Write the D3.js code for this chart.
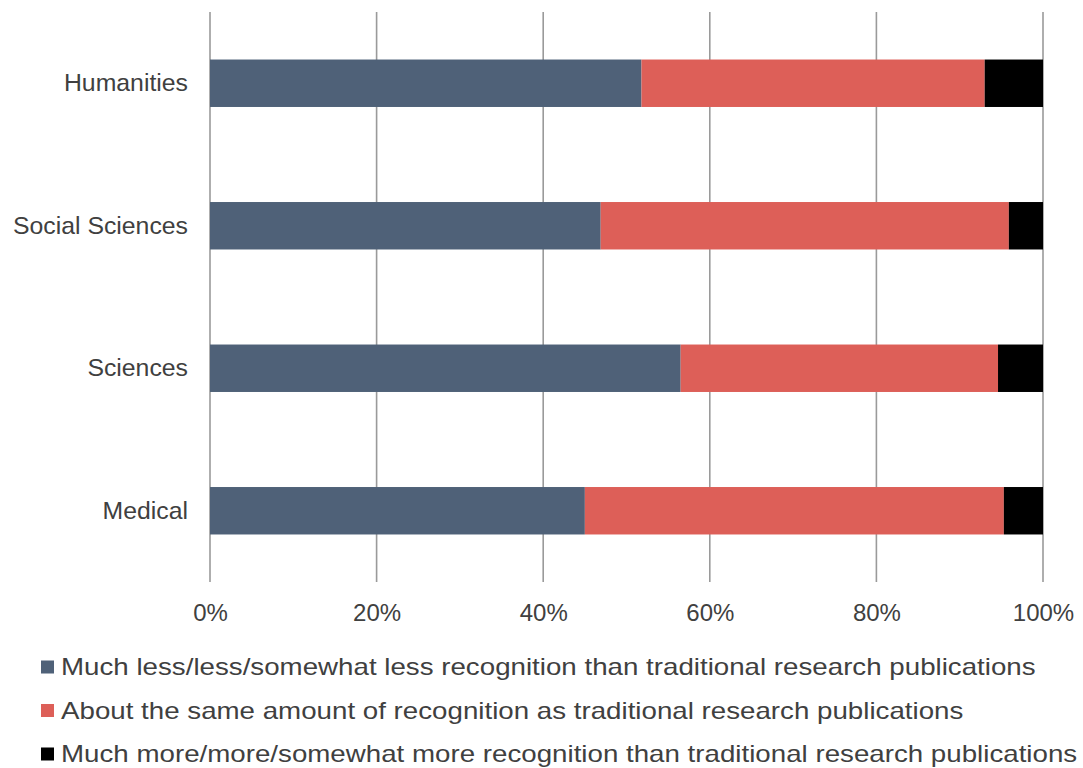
<!DOCTYPE html>
<html>
<head>
<meta charset="utf-8">
<script src="https://cdn.jsdelivr.net/npm/d3@7"></script>
<style>
  html, body { margin: 0; padding: 0; background: #fff; }
  svg { display: block; font-family: "Liberation Sans", Arial, Helvetica, sans-serif; }
</style>
</head>
<body>
<svg id="chart" width="1083" height="768"></svg>
<script>
const categories = ["Humanities", "Social Sciences", "Sciences", "Medical"];
const seriesNames = [
  "Much less/less/somewhat less recognition than traditional research publications",
  "About the same amount of recognition as traditional research publications",
  "Much more/more/somewhat more recognition than traditional research publications"
];
const lessValues = [51.8, 46.9, 56.5, 45.0];
const sameValues = [41.2, 49.0, 38.1, 50.3];
const moreValues = [7.0, 4.1, 5.4, 4.7];
const tickValues = [0, 20, 40, 60, 80, 100];
const colors = ["#4f6178", "#dd5f58", "#000000"];

const rows = categories.map((c, i) => ({
  category: c,
  s0: lessValues[i], s1: sameValues[i], s2: moreValues[i]
}));
const keys = ["s0", "s1", "s2"];
const stacked = d3.stack().keys(keys)(rows);

const svg = d3.select("#chart");
const x = d3.scaleLinear().domain([0, 100]).range([210, 1043]);
const y = d3.scaleBand().domain(categories).range([12, 582])
  .paddingInner(0.667).paddingOuter(0.3335);

const textColor = "#404040";

// gridlines
svg.append("g").selectAll("line").data(tickValues).join("line")
  .attr("x1", d => x(d)).attr("x2", d => x(d))
  .attr("y1", 12).attr("y2", 582)
  .attr("stroke", "#9a9a9a").attr("stroke-width", 1.6);

// bars
svg.append("g").selectAll("g").data(stacked).join("g")
  .attr("fill", (d, i) => colors[i])
  .selectAll("rect").data(d => d).join("rect")
  .attr("x", d => x(d[0]))
  .attr("width", d => x(d[1]) - x(d[0]))
  .attr("y", d => y(d.data.category))
  .attr("height", y.bandwidth());

// x axis tick labels
const xAxis = d3.axisBottom(x).tickValues(tickValues).tickFormat(d => d + "%").tickSize(0).tickPadding(0);
const gx = svg.append("g").attr("transform", "translate(0,604)").call(xAxis);
gx.select(".domain").remove();
gx.selectAll("text").attr("font-size", 24).attr("fill", textColor)
  .attr("font-family", "Liberation Sans, Arial, sans-serif")
  .attr("dy", "0.71em");

// y axis labels
const yAxis = d3.axisLeft(y).tickSize(0).tickPadding(0);
const gy = svg.append("g").attr("transform", "translate(188,0)").call(yAxis);
gy.select(".domain").remove();
gy.selectAll("text").attr("font-size", 24.8).attr("fill", textColor)
  .attr("font-family", "Liberation Sans, Arial, sans-serif");

// legend
const legendY = d3.scalePoint().domain(seriesNames).range([667, 754]);
const lg = svg.append("g").selectAll("g").data(seriesNames).join("g")
  .attr("transform", d => `translate(41,${legendY(d)})`);
lg.append("rect").attr("x", 0).attr("y", -6.5).attr("width", 13).attr("height", 13)
  .attr("fill", (d, i) => colors[i]);
lg.append("text").attr("transform", "translate(20,0) scale(1.205,1)")
  .attr("dy", "0.35em")
  .attr("font-size", 23).attr("fill", textColor)
  .text(d => d);
</script>
</body>
</html>
